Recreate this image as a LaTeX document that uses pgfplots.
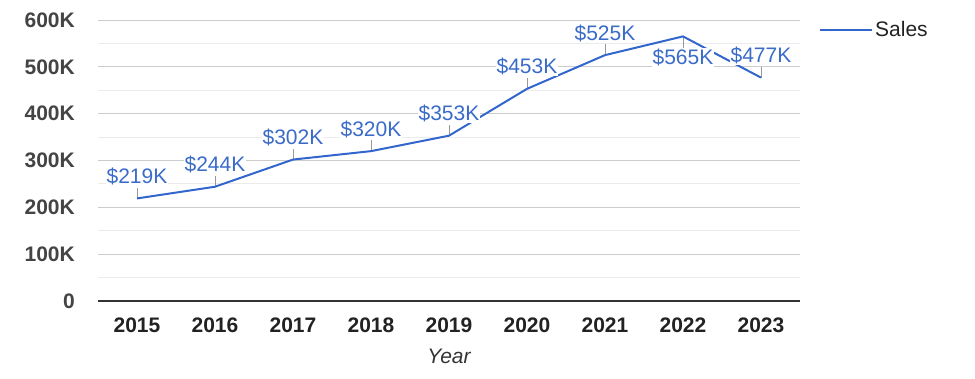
\documentclass[border=0pt]{standalone}
\usepackage{pgfplots}
\pgfplotsset{compat=1.18}
\usepackage{fontspec}
\setmainfont{Liberation Sans}
\definecolor{sales}{HTML}{3366CC}
\definecolor{lbl}{HTML}{3A6BC9}
\definecolor{majg}{HTML}{CCCCCC}
\definecolor{ming}{HTML}{EBEBEB}
\definecolor{axc}{HTML}{333333}
\definecolor{ytc}{HTML}{444444}
\definecolor{xtc}{HTML}{222222}
\newcommand\fs{\fontsize{21}{25}\selectfont}
\begin{document}
\begin{tikzpicture}
\useasboundingbox (0,0) rectangle (975pt,378pt);
\begin{axis}[
  at={(98pt,77pt)}, anchor=south west,
  scale only axis, width=702pt, height=281pt,
  xmin=-0.5, xmax=8.5, ymin=0, ymax=600,
  /pgf/number format/assume math mode=true,
  axis x line*=bottom, axis y line*=left,
  axis line style={-},
  y axis line style={draw=none},
  x axis line style={draw=axc, line width=1.3pt},
  major tick length=0pt, minor tick length=0pt,
  tick style={draw=none},
  xtick={0,...,8},
  xticklabels={2015,2016,2017,2018,2019,2020,2021,2022,2023},
  ytick={0,100,...,600},
  yticklabels={0,100K,200K,300K,400K,500K,600K},
  minor ytick={50,150,...,550},
  ymajorgrids, yminorgrids,
  major grid style={draw=majg, line width=1pt},
  minor grid style={draw=ming, line width=1pt},
  yticklabel style={anchor=east, inner sep=0pt, xshift=-23pt, font=\fs\bfseries, text=ytc},
  xticklabel style={anchor=base, inner sep=0pt, yshift=-31pt, font=\fs\bfseries, text=xtc},
  xlabel={Year},
  xlabel style={at={(axis description cs:0.5,0)}, anchor=base, inner sep=0pt, yshift=-62pt, font=\fs\itshape, text=axc},
  legend style={draw=none, fill=none, at={(axis description cs:1.0313,0.9644)}, anchor=west, inner sep=0pt, font=\fs, text=xtc, xshift=-3pt},
  legend cell align=left,
  legend image code/.code={\path (0pt,0pt) -- (52pt,0pt); \draw[#1] (0pt,0pt) -- (43pt,0pt);},
]
\addplot[draw=none, mark=none, forget plot,
  error bars/.cd, y dir=both, y explicit,
  error bar style={draw=black!40, line width=0.8pt}, error mark=none]
  coordinates {
  (0,219) += (0,23) -= (0,0)
  (1,244) += (0,23) -= (0,0)
  (2,302) += (0,23) -= (0,0)
  (3,320) += (0,23) -= (0,0)
  (4,353) += (0,23) -= (0,0)
  (5,453) += (0,23) -= (0,0)
  (6,525) += (0,23) -= (0,0)
  (7,565) += (0,0) -= (0,24)
  (8,477) += (0,23) -= (0,0)
  };
\addplot[sales, line width=2pt, mark=none]
  coordinates {(0,219) (1,244) (2,302) (3,320) (4,353) (5,453) (6,525) (7,565) (8,477)};
\addlegendentry{Sales}
\addplot[draw=none, mark=none, forget plot, point meta=y,
  nodes near coords={\$\pgfmathprintnumber{\pgfplotspointmeta}K},
  nodes near coords style={anchor=base, yshift=15pt, text=lbl, fill=white, inner sep=1pt, font=\fs}]
  coordinates {(0,219) (1,244) (2,302) (3,320) (4,353) (5,453) (6,525) (8,477)};
\addplot[draw=none, mark=none, forget plot, point meta=y,
  nodes near coords={\$\pgfmathprintnumber{\pgfplotspointmeta}K},
  nodes near coords style={anchor=base, yshift=-28pt, text=lbl, fill=white, inner sep=1pt, font=\fs}]
  coordinates {(7,565)};
\end{axis}
\end{tikzpicture}
\end{document}
